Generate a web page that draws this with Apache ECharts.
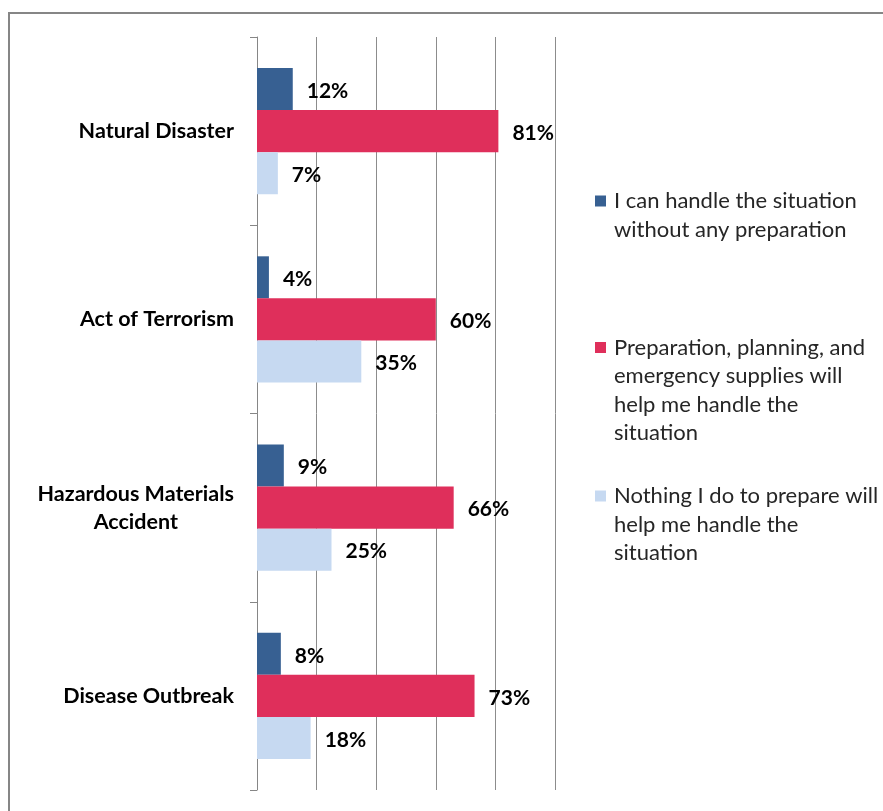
<!DOCTYPE html>
<html>
<head>
<meta charset="utf-8">
<script src="https://cdn.jsdelivr.net/npm/echarts@6/dist/echarts.min.js"></script>
<style>
  html, body { margin: 0; padding: 0; background: #fff; }
  #chart { width: 883px; height: 811px; }
</style>
</head>
<body>
<div id="chart"></div>
<script>
// Survey: how people feel about handling each kind of emergency
const categories = ['Natural Disaster', 'Act of Terrorism', 'Hazardous Materials\nAccident', 'Disease Outbreak'];
const seriesNames = [
  'I can handle the situation without any preparation',
  'Preparation, planning, and emergency supplies will help me handle the situation',
  'Nothing I do to prepare will help me handle the situation'
];
// Wrapped legend lines for each series
const legendLines = [
  ['I can handle the situation', 'without any preparation'],
  ['Preparation, planning, and', 'emergency supplies will', 'help me handle the', 'situation'],
  ['Nothing I do to prepare will', 'help me handle the', 'situation']
];
const canHandle   = [12, 4, 9, 8];
const preparation = [81, 60, 66, 73];
const nothing     = [7, 35, 25, 18];
const xTicks = [0, 20, 40, 60, 80, 100];

const colors = ['#376092', '#DF2F5B', '#C6D9F1'];
const FONT = 'Lato';
const LH = 28.5;

function legendFor(i, top) {
  return {
    left: 590,
    top: top,
    padding: 0,
    orient: 'vertical',
    icon: 'none',
    itemWidth: 0,
    itemHeight: 0,
    selectedMode: false,
    data: [seriesNames[i]],
    formatter: function () {
      const lines = legendLines[i];
      return lines.map(function (l, k) {
        return (k === 0 ? '{sq' + i + '|}{gap|}' : '{ind|}') + '{t|' + l + '}';
      }).join('\n');
    },
    textStyle: {
      rich: {
        sq0: { width: 11, height: 11, backgroundColor: colors[0] },
        sq1: { width: 11, height: 11, backgroundColor: colors[1] },
        sq2: { width: 11, height: 11, backgroundColor: colors[2] },
        gap: { width: 8 },
        ind: { width: 19 },
        t: { fontFamily: FONT, fontSize: 22, color: '#262626', lineHeight: LH }
      }
    }
  };
}

const chart = echarts.init(document.getElementById('chart'), null, { renderer: 'canvas' });

const labelCfg = {
  show: true,
  position: 'right',
  distance: 14,
  offset: [0, 2],
  formatter: '{c}%',
  fontFamily: FONT,
  fontWeight: 'bold',
  fontSize: 21,
  color: '#000'
};

chart.setOption({
  animation: false,
  backgroundColor: '#fff',
  graphic: [{
    type: 'rect',
    shape: { x: 9, y: 13, width: 1000, height: 1000 },
    style: { fill: 'none', stroke: '#868686', lineWidth: 2 },
    silent: true
  }],
  grid: { left: 257, top: 37, width: 298, height: 753, containLabel: false },
  legend: [legendFor(0, 190), legendFor(1, 336.5), legendFor(2, 485)],
  xAxis: {
    type: 'value',
    min: xTicks[0],
    max: xTicks[xTicks.length - 1],
    interval: xTicks[1] - xTicks[0],
    axisLine: { show: false },
    axisTick: { show: false },
    axisLabel: { show: false },
    splitLine: { show: true, lineStyle: { color: '#8c8c8c', width: 1 } }
  },
  yAxis: {
    type: 'category',
    inverse: true,
    data: categories,
    axisLine: { show: true, lineStyle: { color: '#868686', width: 1 } },
    axisTick: { show: true, length: 7, lineStyle: { color: '#868686' } },
    axisLabel: {
      margin: 23,
      formatter: function (v) {
        return v.split('\n').map(function (l) { return '{c|' + l + '}'; }).join('\n');
      },
      rich: {
        c: { fontFamily: FONT, fontWeight: 'bold', fontSize: 21.5, color: '#000', lineHeight: 28, align: 'center' }
      }
    }
  },
  series: [
    { name: seriesNames[0], type: 'bar', data: canHandle, itemStyle: { color: colors[0] },
      barGap: '0%', barCategoryGap: '33%', label: labelCfg },
    { name: seriesNames[1], type: 'bar', data: preparation, itemStyle: { color: colors[1] },
      barGap: '0%', barCategoryGap: '33%', label: labelCfg },
    { name: seriesNames[2], type: 'bar', data: nothing, itemStyle: { color: colors[2] },
      barGap: '0%', barCategoryGap: '33%', label: labelCfg }
  ]
});
</script>
</body>
</html>
